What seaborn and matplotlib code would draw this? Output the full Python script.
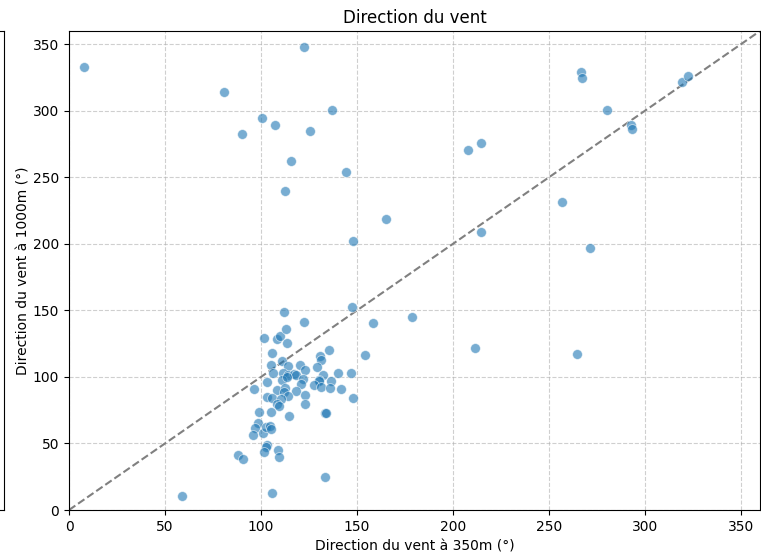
import numpy as np
import pandas as pd
import matplotlib
matplotlib.use("Agg")
import matplotlib.pyplot as plt
import seaborn as sns

dir_350 = [112.0, 147.4, 158.3, 122.4, 101.4, 108.3, 110.1, 112.9, 113.7, 105.9,
           135.3, 130.7, 131.3, 154.2, 110.8, 105.2, 114.2, 120.5, 129.2, 123.1,
           106.3, 111.3, 114.2, 117.2, 118.2, 132.1, 140.3, 146.9, 103.3, 111.1,
           113.4, 121.7, 120.7, 130.4, 130.1, 136.3, 127.6, 131.3, 136.1, 141.5,
           96.4, 108.3, 112.7, 111.8, 118.1, 122.9, 114.1, 103.3, 105.6, 110.3,
           108.5, 109.2, 122.8, 147.9, 98.8, 105.1, 114.7, 133.3, 133.9, 98.6,
           97.0, 95.8, 101.0, 102.6, 104.5, 105.1, 103.1, 102.4, 101.4, 108.9,
           109.5, 88.0, 90.5, 133.2, 105.7, 58.7, 7.7,
           80.6, 122.4, 100.5, 107.4, 89.9, 125.5, 137.1, 115.8, 144.1, 112.3,
           164.9, 147.8,
           266.5, 267.2, 319.4, 322.6, 280.1, 292.9, 293.1, 207.8, 214.7, 256.9,
           214.4, 271.4, 178.5, 211.6, 264.4]
dir_1000 = [149.0, 152.3, 140.7, 141.2, 129.0, 128.5, 130.7, 135.8, 125.7, 118.2,
            120.2, 115.9, 112.7, 116.5, 112.2, 108.7, 108.2, 109.2, 107.4, 105.2,
            102.7, 102.7, 101.7, 102.2, 101.7, 101.7, 102.7, 102.7, 96.2, 97.4,
            99.9, 98.2, 94.7, 97.7, 96.7, 96.9, 93.9, 92.6, 91.9, 90.9,
            90.7, 89.9, 91.4, 88.7, 89.2, 86.6, 85.6, 84.9, 84.1, 83.6,
            79.4, 78.4, 79.9, 84.4, 73.6, 73.4, 70.4, 73.1, 73.1, 65.6,
            61.8, 56.6, 58.1, 62.1, 63.1, 61.1, 49.1, 47.1, 43.8, 44.9,
            39.8, 41.1, 38.1, 25.0, 12.5, 10.3, 332.8,
            313.8, 347.9, 294.3, 289.0, 282.3, 284.5, 300.5, 262.2, 253.7, 239.4,
            218.9, 202.1,
            329.1, 324.8, 321.3, 326.3, 300.5, 289.5, 286.5, 270.7, 275.5, 231.6,
            208.6, 197.1, 145.0, 121.9, 117.0]

title = "Direction du vent"
xlabel = "Direction du vent à 350m (°)"
ylabel = "Direction du vent à 1000m (°)"

df = pd.DataFrame({"d350": dir_350, "d1000": dir_1000})

fig = plt.figure(figsize=(7.61, 5.55), dpi=100)
W, H = 761, 555
ax = fig.add_axes([69 / W, (H - 510) / H, (760 - 69) / W, (510 - 31) / H])

# partial neighbouring axes cut off at the left edge
ax0 = fig.add_axes([-200 / W, (H - 510) / H, 203.5 / W, (510 - 31) / H])
ax0.set_xticks([])
ax0.set_yticks([])

sns.scatterplot(data=df, x="d350", y="d1000", ax=ax, s=50, alpha=0.6,
                color="#1f77b4", edgecolor="white", linewidth=0.6, zorder=3)
ax.plot([0, 360], [0, 360], linestyle="--", color="gray", linewidth=1.5, zorder=2)

ax.set_xlim(0, 360)
ax.set_ylim(0, 360)
ax.set_xticks(np.arange(0, 351, 50))
ax.set_yticks(np.arange(0, 351, 50))
ax.grid(True, linestyle="--", alpha=0.6)
ax.set_axisbelow(True)
ax.set_title(title, fontsize=12)
ax.set_xlabel(xlabel, fontsize=10)
ax.set_ylabel(ylabel, fontsize=10, labelpad=1.5)

fig.savefig("out.png", dpi=100)
